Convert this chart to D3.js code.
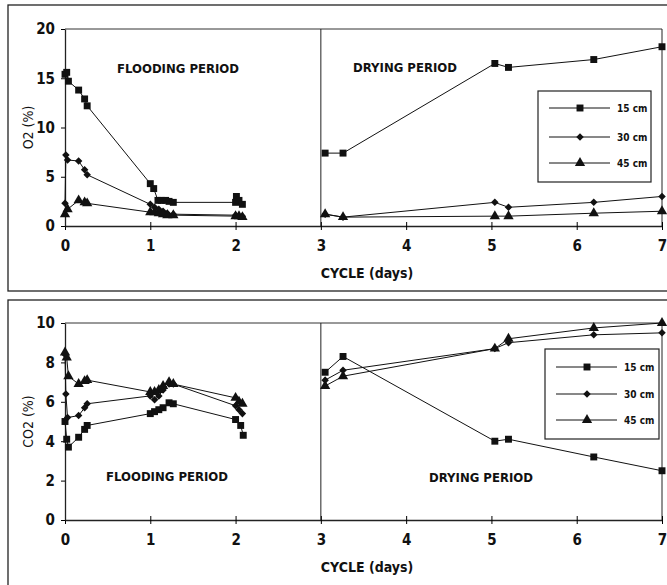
<!DOCTYPE html>
<html>
<head>
<meta charset="utf-8">
<script src="https://cdn.jsdelivr.net/npm/d3@7"></script>
<style>
  body { margin: 0; background: #fff; }
  text { font-family: "DejaVu Sans Condensed", "Liberation Sans Narrow", "DejaVu Sans", sans-serif; font-stretch: condensed; font-weight: bold; fill: #111; }
</style>
</head>
<body>
<div id="chart"></div>
<script>
// cycle days ticks
const dayTicks = [0, 1, 2, 3, 4, 5, 6, 7];
const o2Ticks = [0, 5, 10, 15, 20];
const co2Ticks = [0, 2, 4, 6, 8, 10];
const depths = ["15 cm", "30 cm", "45 cm"];

// O2 (%) — [day, value]
const o2Flood15 = [[0,15.4],[0.02,15.6],[0.04,14.7],[0.16,13.8],[0.23,12.9],[0.26,12.2],[1.0,4.3],[1.04,3.8],[1.09,2.6],[1.13,2.6],[1.18,2.6],[1.22,2.5],[1.27,2.4],[2.0,2.4],[2.01,3.0],[2.04,2.6],[2.08,2.2]];
const o2Dry15 = [[3.05,7.4],[3.26,7.4],[5.04,16.5],[5.2,16.1],[6.2,16.9],[7.0,18.2]];
const o2Flood30 = [[0,2.3],[0.01,7.2],[0.03,6.7],[0.16,6.6],[0.23,5.7],[0.26,5.2],[1.0,2.2],[1.05,1.9],[1.1,1.7],[1.15,1.5],[1.2,1.3],[1.27,1.2],[2.0,1.1],[2.04,1.0],[2.08,1.0]];
const o2Dry30 = [[3.05,1.2],[3.26,0.9],[5.04,2.4],[5.2,1.9],[6.2,2.4],[7.0,3.0]];
const o2Flood45 = [[0,1.2],[0.03,1.7],[0.16,2.6],[0.23,2.4],[0.26,2.3],[1.0,1.4],[1.05,1.4],[1.1,1.3],[1.15,1.2],[1.2,1.1],[1.27,1.1],[2.0,1.0],[2.04,1.0],[2.08,0.9]];
const o2Dry45 = [[3.05,1.2],[3.26,0.9],[5.04,1.0],[5.2,1.0],[6.2,1.3],[7.0,1.5]];

// CO2 (%) — [day, value]
const co2Flood15 = [[0,5.0],[0.02,4.1],[0.04,3.7],[0.16,4.2],[0.23,4.6],[0.26,4.8],[1.0,5.4],[1.05,5.5],[1.1,5.6],[1.15,5.7],[1.22,5.95],[1.27,5.9],[2.0,5.1],[2.06,4.8],[2.09,4.3]];
const co2Dry15 = [[3.05,7.5],[3.26,8.3],[5.04,4.0],[5.2,4.1],[6.2,3.2],[7.0,2.5]];
const co2Flood30 = [[0,8.4],[0.01,6.4],[0.03,5.2],[0.16,5.3],[0.23,5.7],[0.26,5.9],[1.0,6.3],[1.05,6.1],[1.1,6.3],[1.15,6.6],[1.22,6.9],[1.27,6.9],[2.0,5.8],[2.04,5.6],[2.08,5.4]];
const co2Dry30 = [[3.05,7.1],[3.26,7.6],[5.04,8.7],[5.2,9.0],[6.2,9.4],[7.0,9.5]];
const co2Flood45 = [[0,8.5],[0.02,8.25],[0.04,7.3],[0.16,6.9],[0.23,7.05],[0.26,7.1],[1.0,6.5],[1.05,6.5],[1.1,6.6],[1.15,6.8],[1.22,7.0],[1.27,6.9],[2.0,6.2],[2.04,6.0],[2.08,5.9]];
const co2Dry45 = [[3.05,6.8],[3.26,7.3],[5.04,8.7],[5.2,9.2],[6.2,9.75],[7.0,10.0]];

const width = 667, height = 585;
const symbols = [d3.symbolSquare, d3.symbolDiamond2, d3.symbolTriangle];
const symSize = [48, 36, 46];

const svg = d3.select("#chart").append("svg")
  .attr("width", width).attr("height", height);

const xScale = d3.scaleLinear().domain([0, 7]).range([65, 662]);

function panel(cfg) {
  const g = svg.append("g");
  const yScale = d3.scaleLinear().domain(cfg.yDomain).range([cfg.bottom, cfg.top]);

  // outer frame
  g.append("rect")
    .attr("x", cfg.frame[0]).attr("y", cfg.frame[1])
    .attr("width", cfg.frame[2]).attr("height", cfg.frame[3])
    .attr("fill", "none").attr("stroke", "#222").attr("stroke-width", 1.3);

  // plot box: top, right, divider at day 3
  g.append("line").attr("x1", xScale(0)).attr("x2", xScale(7))
    .attr("y1", cfg.top).attr("y2", cfg.top).attr("stroke", "#333");
  [3, 7].forEach(d => {
    g.append("line").attr("x1", xScale(d)).attr("x2", xScale(d))
      .attr("y1", cfg.top).attr("y2", cfg.bottom).attr("stroke", "#222");
  });

  const xAxis = d3.axisBottom(xScale).tickValues(dayTicks).tickFormat(d3.format("d"))
    .tickSizeInner(4).tickSizeOuter(0).tickPadding(10);
  const gx = g.append("g").attr("transform", `translate(0,${cfg.bottom})`).call(xAxis);
  gx.selectAll(".tick line").attr("y1", -4);
  gx.selectAll("text").style("font-size", "15px");

  const yAxis = d3.axisLeft(yScale).tickValues(cfg.yTicks).tickSizeInner(4).tickSizeOuter(0).tickPadding(6);
  const gy = g.append("g").attr("transform", `translate(${xScale(0)},0)`).call(yAxis);
  gy.selectAll("text").style("font-size", "15px");
  svg.selectAll(".domain").attr("stroke", "#222").attr("stroke-width", 1.3);

  g.append("text")
    .attr("x", 367).attr("y", cfg.bottom + 52)
    .attr("text-anchor", "middle").style("font-size", "14px")
    .text("CYCLE (days)");
  g.append("text")
    .attr("transform", `translate(33,${(cfg.top + cfg.bottom) / 2}) rotate(-90)`)
    .attr("text-anchor", "middle").style("font-size", "14px").style("font-weight", "normal")
    .text(cfg.yLabel);

  const line = d3.line().x(d => xScale(d[0])).y(d => yScale(d[1]));
  cfg.series.forEach((segs, i) => {
    segs.forEach(seg => {
      g.append("path").datum(seg).attr("d", line)
        .attr("fill", "none").attr("stroke", "#111").attr("stroke-width", 1);
      g.selectAll(null).data(seg).join("path")
        .attr("transform", d => `translate(${xScale(d[0])},${yScale(d[1])})`)
        .attr("d", d3.symbol(symbols[i], symSize[i]))
        .attr("fill", "#111");
    });
  });

  cfg.periods.forEach(p => {
    g.append("text").attr("x", p[0]).attr("y", p[1])
      .attr("text-anchor", "middle").style("font-size", "13px")
      .text(p[2]);
  });

  // legend
  const lg = cfg.legend;
  g.append("rect").attr("x", lg.x).attr("y", lg.y).attr("width", lg.w).attr("height", lg.h)
    .attr("fill", "#fff").attr("stroke", "#222").attr("stroke-width", 1.2);
  depths.forEach((name, i) => {
    const ry = lg.rows[i];
    g.append("line").attr("x1", lg.x + 11).attr("x2", lg.x + 72)
      .attr("y1", ry).attr("y2", ry).attr("stroke", "#111");
    g.append("path").attr("transform", `translate(${lg.x + 42},${ry})`)
      .attr("d", d3.symbol(symbols[i], symSize[i])).attr("fill", "#111");
    g.append("text").attr("x", lg.x + 79).attr("y", ry + 4)
      .style("font-size", "10px").text(name);
  });
}

panel({
  frame: [8, 5, 670, 286],
  top: 29, bottom: 226,
  yDomain: [0, 20], yTicks: o2Ticks, yLabel: "O2 (%)",
  series: [[o2Flood15, o2Dry15], [o2Flood30, o2Dry30], [o2Flood45, o2Dry45]],
  periods: [[178, 73, "FLOODING PERIOD"], [405, 72, "DRYING PERIOD"]],
  legend: { x: 538, y: 91, w: 113, h: 91, rows: [108, 137, 163] }
});

panel({
  frame: [8, 300, 670, 300],
  top: 323, bottom: 520,
  yDomain: [0, 10], yTicks: co2Ticks, yLabel: "CO2 (%)",
  series: [[co2Flood15, co2Dry15], [co2Flood30, co2Dry30], [co2Flood45, co2Dry45]],
  periods: [[167, 481, "FLOODING PERIOD"], [481, 482, "DRYING PERIOD"]],
  legend: { x: 545, y: 349, w: 114, h: 90, rows: [367, 394, 420] }
});
</script>
</body>
</html>
